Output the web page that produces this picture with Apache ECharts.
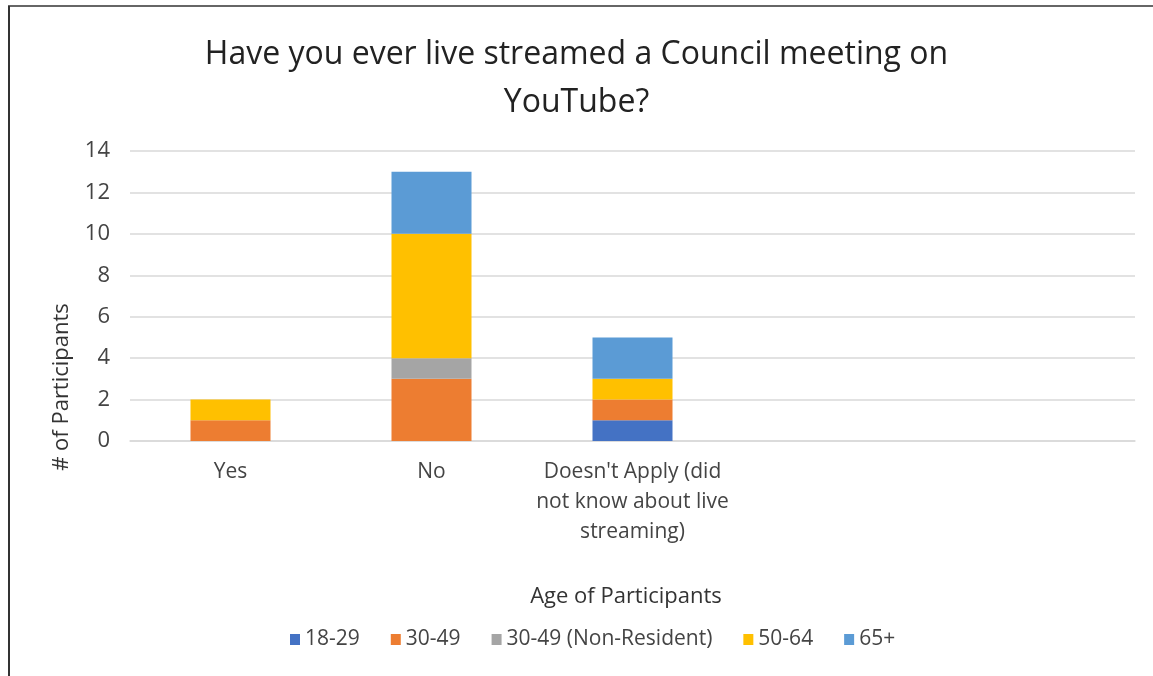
<!DOCTYPE html>
<html><head><meta charset="utf-8">
<script src="https://cdn.jsdelivr.net/npm/echarts@6/dist/echarts.min.js"></script>
<style>html,body{margin:0;padding:0;background:#fff}#c{width:1153px;height:676px}</style>
</head><body><div id="c"></div>
<script>
const categories = ["Yes", "No", "Doesn't Apply (did\nnot know about live\nstreaming)", "", ""];
const seriesNames = ["18-29", "30-49", "30-49 (Non-Resident)", "50-64", "65+"];
const v18_29 = [0, 0, 1, 0, 0];
const v30_49 = [1, 3, 1, 0, 0];
const v30_49NR = [0, 1, 0, 0, 0];
const v50_64 = [1, 6, 1, 0, 0];
const v65plus = [0, 3, 2, 0, 0];
const yTicks = [0, 2, 4, 6, 8, 10, 12, 14];

const colors = ['#4472C4', '#ED7D31', '#A5A5A5', '#FFC000', '#5B9BD5'];
const values = [v18_29, v30_49, v30_49NR, v50_64, v65plus];
const font = 'Open Sans';

const chart = echarts.init(document.getElementById('c'));
chart.setOption({
  animation: false,
  backgroundColor: '#fff',
  title: {
    text: 'Have you ever live streamed a Council meeting on\nYouTube?',
    left: 'center', top: 26,
    textStyle: { fontFamily: font, fontSize: 32, fontWeight: 'normal', color: '#222', lineHeight: 48 }
  },
  legend: {
    bottom: 21, left: 285,
    itemWidth: 10, itemHeight: 11, itemGap: 31,
    icon: 'rect',
    textStyle: { fontFamily: font, fontSize: 21, color: '#444' },
    data: seriesNames
  },
  grid: { left: 130, right: 18, top: 151, bottom: 235, containLabel: false },
  xAxis: {
    type: 'category', data: categories,
    axisLine: { lineStyle: { color: '#d9d9d9', width: 1.5 } },
    axisTick: { show: false },
    axisLabel: { interval: 0, margin: 16, fontFamily: font, fontSize: 21, color: '#444', lineHeight: 30 }
  },
  yAxis: {
    type: 'value', min: 0, max: 14, interval: 2,
    axisLine: { show: false }, axisTick: { show: false },
    axisLabel: { margin: 20, fontFamily: font, fontSize: 22, color: '#444',
      formatter: v => yTicks.includes(v) ? String(v) : '' },
    splitLine: { lineStyle: { color: '#d9d9d9', width: 1.5 } }
  },
  graphic: [
    { type: 'line', shape: { x1: 8, y1: 6, x2: 1153, y2: 6 }, style: { stroke: '#666', lineWidth: 2 } },
    { type: 'line', shape: { x1: 9, y1: 6, x2: 9, y2: 676 }, style: { stroke: '#333', lineWidth: 2 } },
    { type: 'text', x: 626, y: 597, style: { text: 'Age of Participants', fontFamily: font, fontSize: 22, fill: '#333', align: 'center', verticalAlign: 'middle' } },
    { type: 'text', x: 62, y: 387, rotation: Math.PI / 2, style: { text: '# of Participants', fontFamily: font, fontSize: 22, fill: '#333', align: 'center', verticalAlign: 'middle' } }
  ],
  series: seriesNames.map((n, i) => ({
    name: n, type: 'bar', stack: 'total', barWidth: 80,
    itemStyle: { color: colors[i] },
    data: values[i]
  }))
});
</script>
</body></html>
